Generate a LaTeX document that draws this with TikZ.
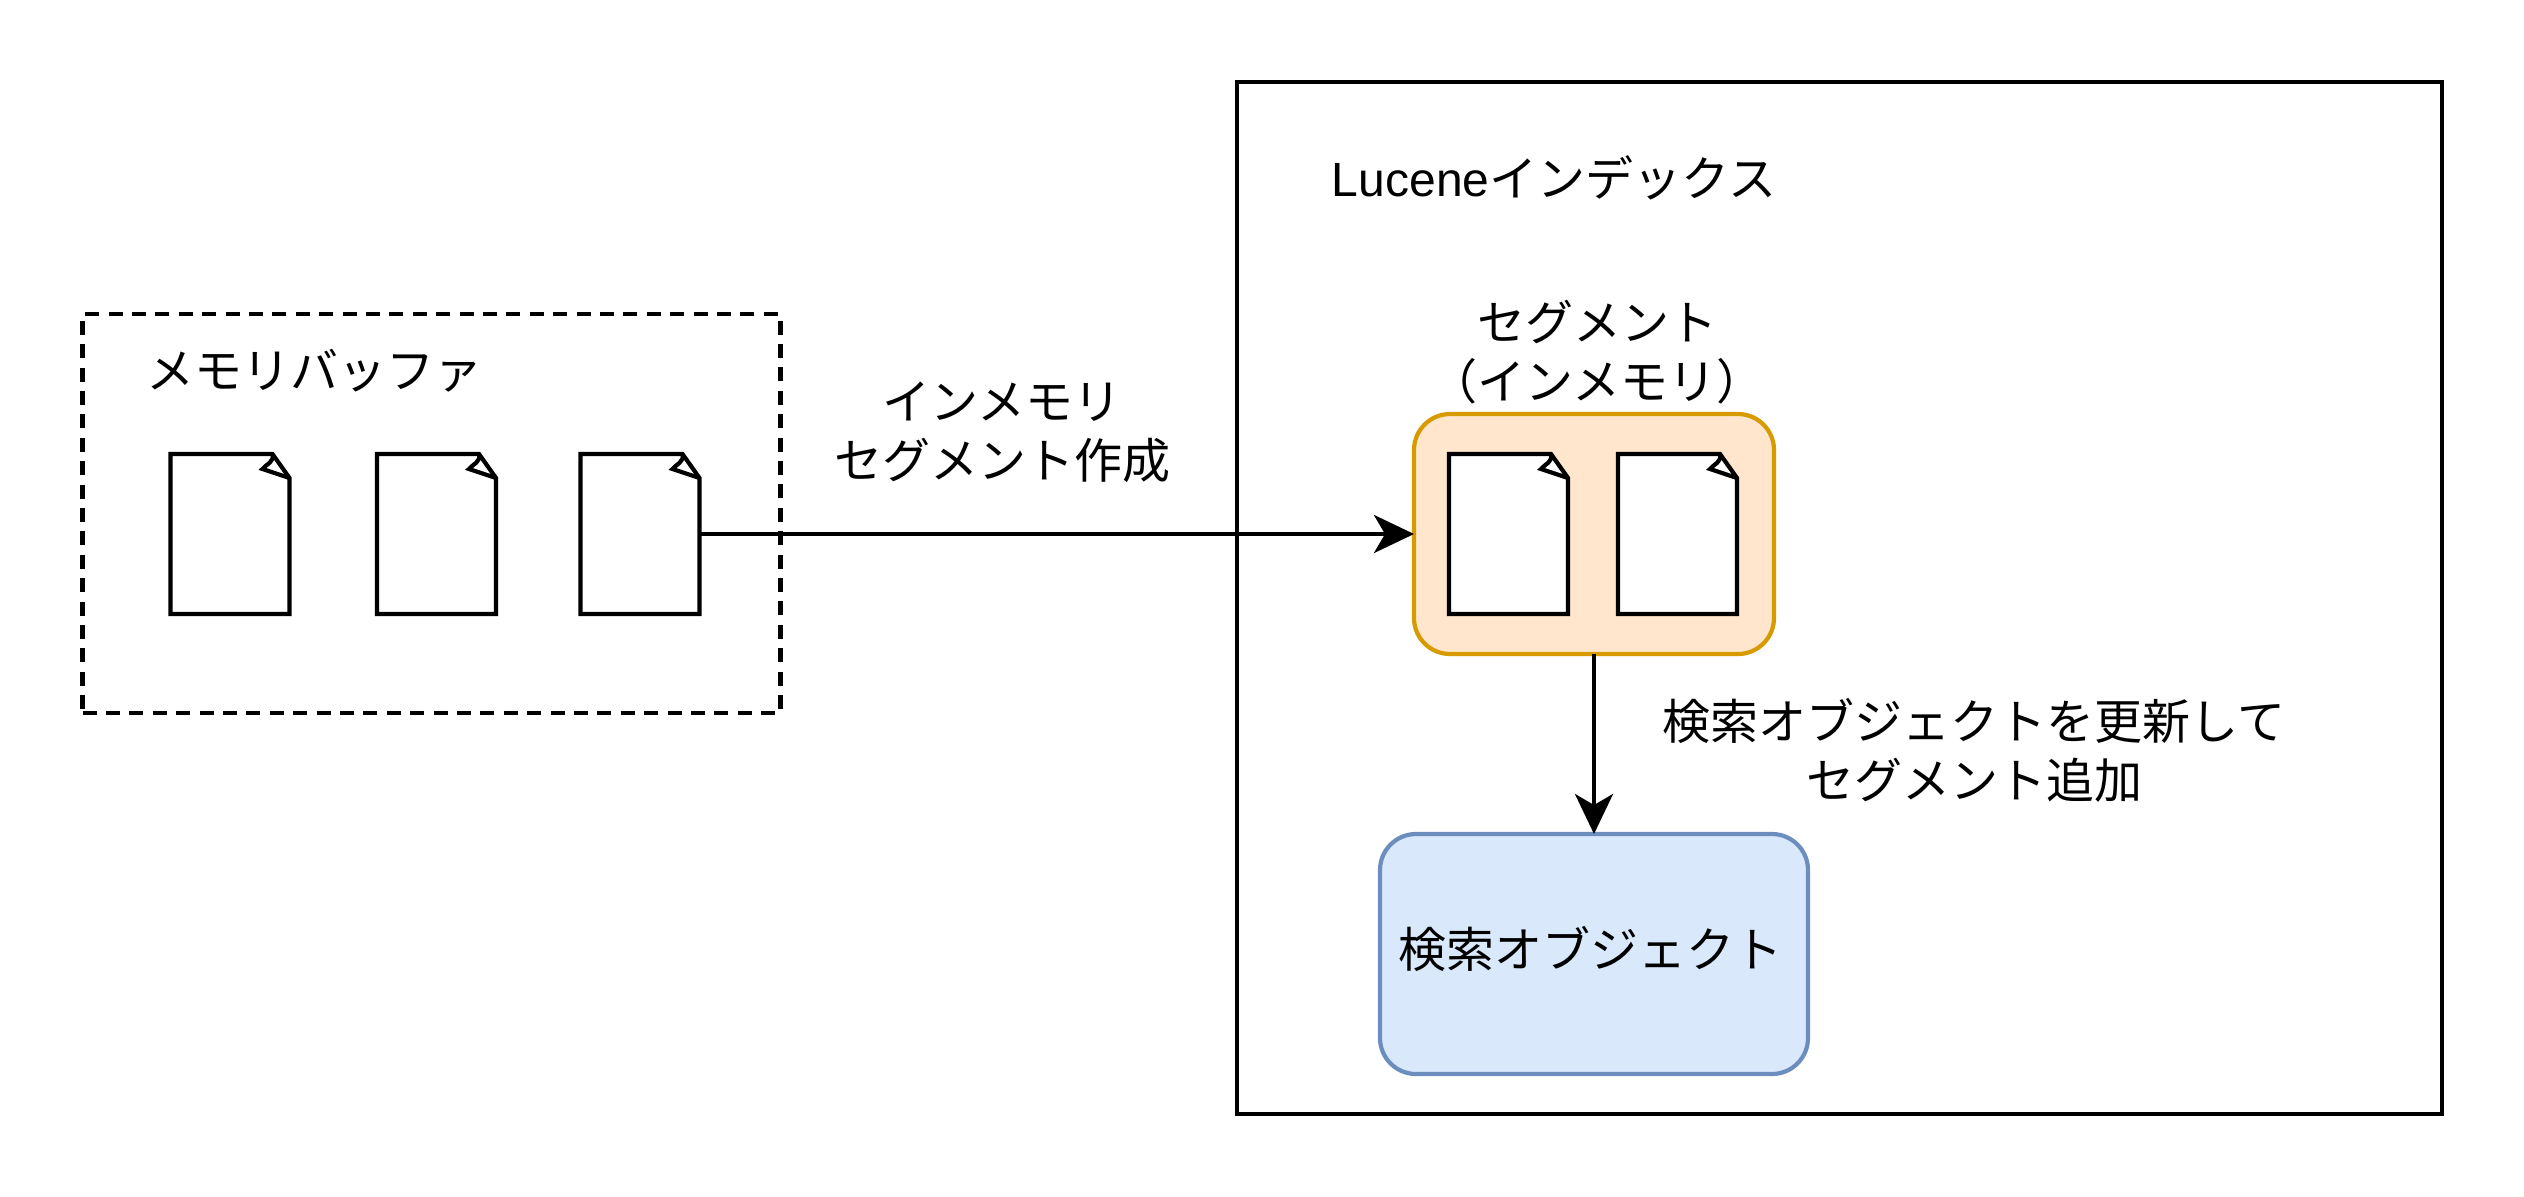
\documentclass[tikz,border=0pt]{standalone}
\usepackage{fontspec}
\setmainfont{Liberation Sans}
\newfontfamily\cjk{Noto Sans CJK JP}
\usetikzlibrary{arrows.meta,calc}
\tikzset{
  box/.style={draw,rectangle,line width=2.1pt,outer sep=0pt,inner sep=0pt},
  membox/.style={box,dashed,dash pattern=on 7pt off 4.7pt,minimum width=349pt,minimum height=199.5pt},
  lucenebox/.style={box,minimum width=602.5pt,minimum height=516pt},
  segbox/.style={box,rounded corners=18pt,draw=segline,fill=segfill,minimum width=180pt,minimum height=120pt},
  searchbox/.style={box,rounded corners=18pt,draw=searchline,fill=searchfill,minimum width=214pt,minimum height=120pt},
  paperbox/.style={rectangle,outer sep=0pt,inner sep=0pt,minimum width=59.5pt,minimum height=80pt},
  paperline/.style={line width=2.1pt,line join=miter},
  txt/.style={inner sep=0pt,align=center,font=\cjk\fontsize{24}{29.5}\selectfont},
  link/.style={line width=2pt,-{Stealth[length=20pt,width=19pt,inset=5.5pt]}}
}
\definecolor{segfill}{HTML}{FFE6CC}
\definecolor{segline}{HTML}{D79B00}
\definecolor{searchfill}{HTML}{DAE8FC}
\definecolor{searchline}{HTML}{6C8EBF}
\newcommand{\paper}[3]{%
  \node[paperbox] (#1) at (#2,#3) {};
  \draw[paperline,fill=white] (#1.north west) -- ($(#1.north east)+(-17,0)$)
    -- ($(#1.north east)+(0,24)$) -- (#1.south east) -- (#1.south west) -- cycle;
  \draw[paperline] ($(#1.north east)+(-17,0)$) .. controls ($(#1.north east)+(-15,8)$) and ($(#1.north east)+(-23,10)$) .. ($(#1.north east)+(-27,15)$)
    -- ($(#1.north east)+(0,24)$);
}
\begin{document}
\begin{tikzpicture}[x=0.5pt,y=-0.5pt]
  \useasboundingbox (0,0) rectangle (2524,1196);
  \node[membox] (mem) at (431.5,513.5) {};
  \node[lucenebox] (lucene) at (1839.5,598) {};
  \node[segbox] (seg) at (1594,534) {};
  \node[searchbox] (search) at (1594,954) {};
  \paper{doc1}{230}{534}
  \paper{doc2}{436.5}{534}
  \paper{doc3}{640}{534}
  \paper{doc4}{1508.5}{534}
  \paper{doc5}{1677.5}{534}
  \node[txt] (memlabel) at (314.5,371) {メモリバッファ};
  \node[txt] (lucenelabel) at (1554,178) {{\rmfamily Lucene}インデックス};
  \node[txt] (seglabel) at (1597,352) {セグメント\\（インメモリ）};
  \node[txt] (createlabel) at (1002,432) {インメモリ\\セグメント作成};
  \node[txt] (updatelabel) at (1974,750) {検索オブジェクトを更新して\\セグメント追加};
  \node[txt] (searchlabel) at (1590,949) {検索オブジェクト};
  \draw[link] (doc3.east) -- (seg.west);
  \draw[link] (seg.south) -- (search.north);
\end{tikzpicture}
\end{document}
